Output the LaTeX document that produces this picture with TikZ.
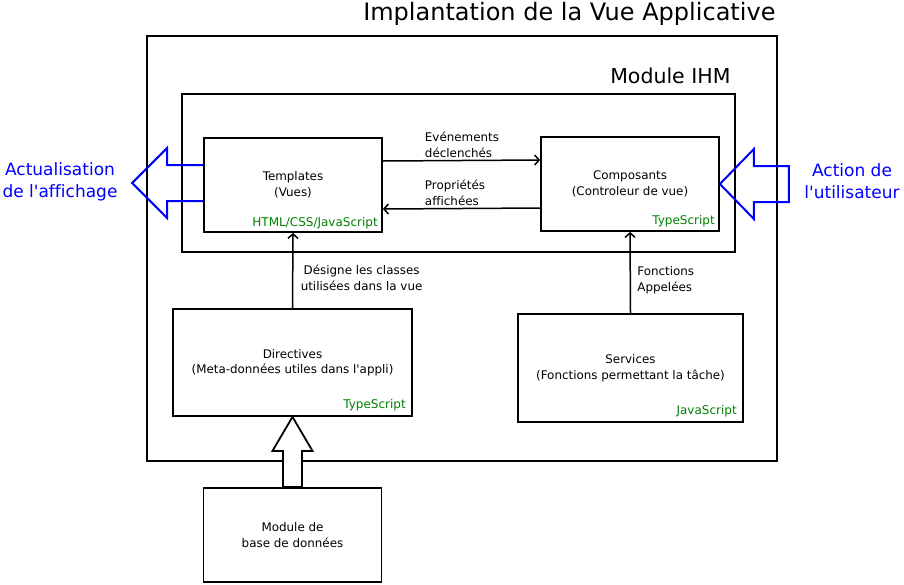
\documentclass[tikz,border=0pt]{standalone}
\usepackage{fontspec}
\setmainfont{DejaVu Sans}[Ligatures={TeXOff,CommonOff}]
\usetikzlibrary{arrows.meta, positioning}

\begin{document}
\begin{tikzpicture}[x=1pt, y=-1pt, >={Straight Barb[length=4.5pt,width=10pt]},
  box/.style={rectangle, draw, line width=1.8pt, align=center, font=\fontsize{11.9}{15.5}\selectfont},
  frame/.style={rectangle, draw, line width=1.8pt},
  lbl/.style={font=\fontsize{11.9}{16}\selectfont},
  lang/.style={text=green!50!black, font=\fontsize{12}{12}\selectfont, anchor=base east, inner sep=0pt},
  link/.style={->, line width=1.5pt},
  bigarrow/.style={line width=1.8pt, fill=white},
  userarrow/.style={draw=blue, line width=2pt},
  userlbl/.style={text=blue, align=center, inner sep=0pt, font=\fontsize{17}{22}\selectfont}]
\useasboundingbox (0,0) rectangle (904,584);

% cadres
\node (vue) [frame, minimum width=630pt, minimum height=425pt] at (462,248.5) {};
\node (ihm) [frame, minimum width=553pt, minimum height=158pt] at (458.5,173) {};
\node (titre) [anchor=east, font=\fontsize{24}{28}\selectfont] at (779,14) {Implantation de la Vue Applicative};
\node (titreihm) [anchor=east, font=\fontsize{20.5}{24}\selectfont] at (734,76) {Module IHM};

% blocs
\node (tpl)  [box, minimum width=178pt, minimum height=94pt] at (293,185) {Templates\\(Vues)};
\node (comp) [box, minimum width=178pt, minimum height=94pt] at (630,184) {Composants\\(Controleur de vue)};
\node (dir)  [box, minimum width=239pt, minimum height=107pt] at (292.5,362.5) {Directives\\(Meta-données utiles dans l'appli)};
\node (srv)  [box, minimum width=225pt, minimum height=108pt] at (630.5,368) {Services\\(Fonctions permettant la tâche)};
\node (db)   [box, minimum width=178pt, minimum height=94pt] at (292.5,535) {Module de\\base de données};

\node [lang] at ([xshift=-5pt,yshift=6pt]tpl.south east) {HTML/CSS/JavaScript};
\node [lang] at ([xshift=-5pt,yshift=7pt]comp.south east) {TypeScript};
\node [lang] at ([xshift=-7pt,yshift=8pt]dir.south east) {TypeScript};
\node [lang] at ([xshift=-7pt,yshift=8pt]srv.south east) {JavaScript};

% liaisons
\draw[link] ([yshift=24pt]tpl.east) -- ([yshift=24pt]comp.west)
  node[lbl, pos=0.25, above right, align=left, inner sep=2pt] {Evénements\\déclenchés};
\draw[link] ([yshift=-24pt]comp.west) -- ([yshift=-24pt]tpl.east)
  node[lbl, pos=0.75, above right, align=left, inner sep=2pt] {Propriétés\\affichées};
\draw[link] (dir.north) -- (tpl.south)
  node[lbl, pos=0.4, right, xshift=4pt, align=center] {Désigne les classes\\utilisées dans la vue};
\draw[link] (srv.north) -- (comp.south)
  node[lbl, pos=0.4, right, xshift=3pt, align=left] {Fonctions\\Appelées};

% fleche base de donnees
\coordinate (tete) at ([yshift=-34pt]dir.south);
\draw[bigarrow] ([xshift=-9.5pt]db.north) -- ([xshift=-9.5pt]tete) -- ([xshift=-20pt]tete)
  -- (dir.south) -- ([xshift=20pt]tete) -- ([xshift=9.5pt]tete) -- ([xshift=9.5pt]db.north) -- cycle;

% fleches utilisateur
\coordinate (gauche) at ([xshift=-71pt,yshift=2pt]tpl.west);
\draw[userarrow] ([yshift=20pt]tpl.west) -- ++(-36,0) -- ++(0,-17) -- (gauche)
  -- ++(35,35) -- ++(0,-17) -- ([yshift=-16pt]tpl.west);
\coordinate (droite) at (comp.east);
\draw[userarrow] (droite) -- ++(34,-35) -- ++(0,17) -- ++(35,0) -- ++(0,36) -- ++(-35,0)
  -- ++(0,17) -- cycle;
\node (actu) [userlbl] at (60,182) {Actualisation\\de l'affichage};
\node (action) [userlbl] at (852,181) {Action de\\l'utilisateur};
\end{tikzpicture}
\end{document}
